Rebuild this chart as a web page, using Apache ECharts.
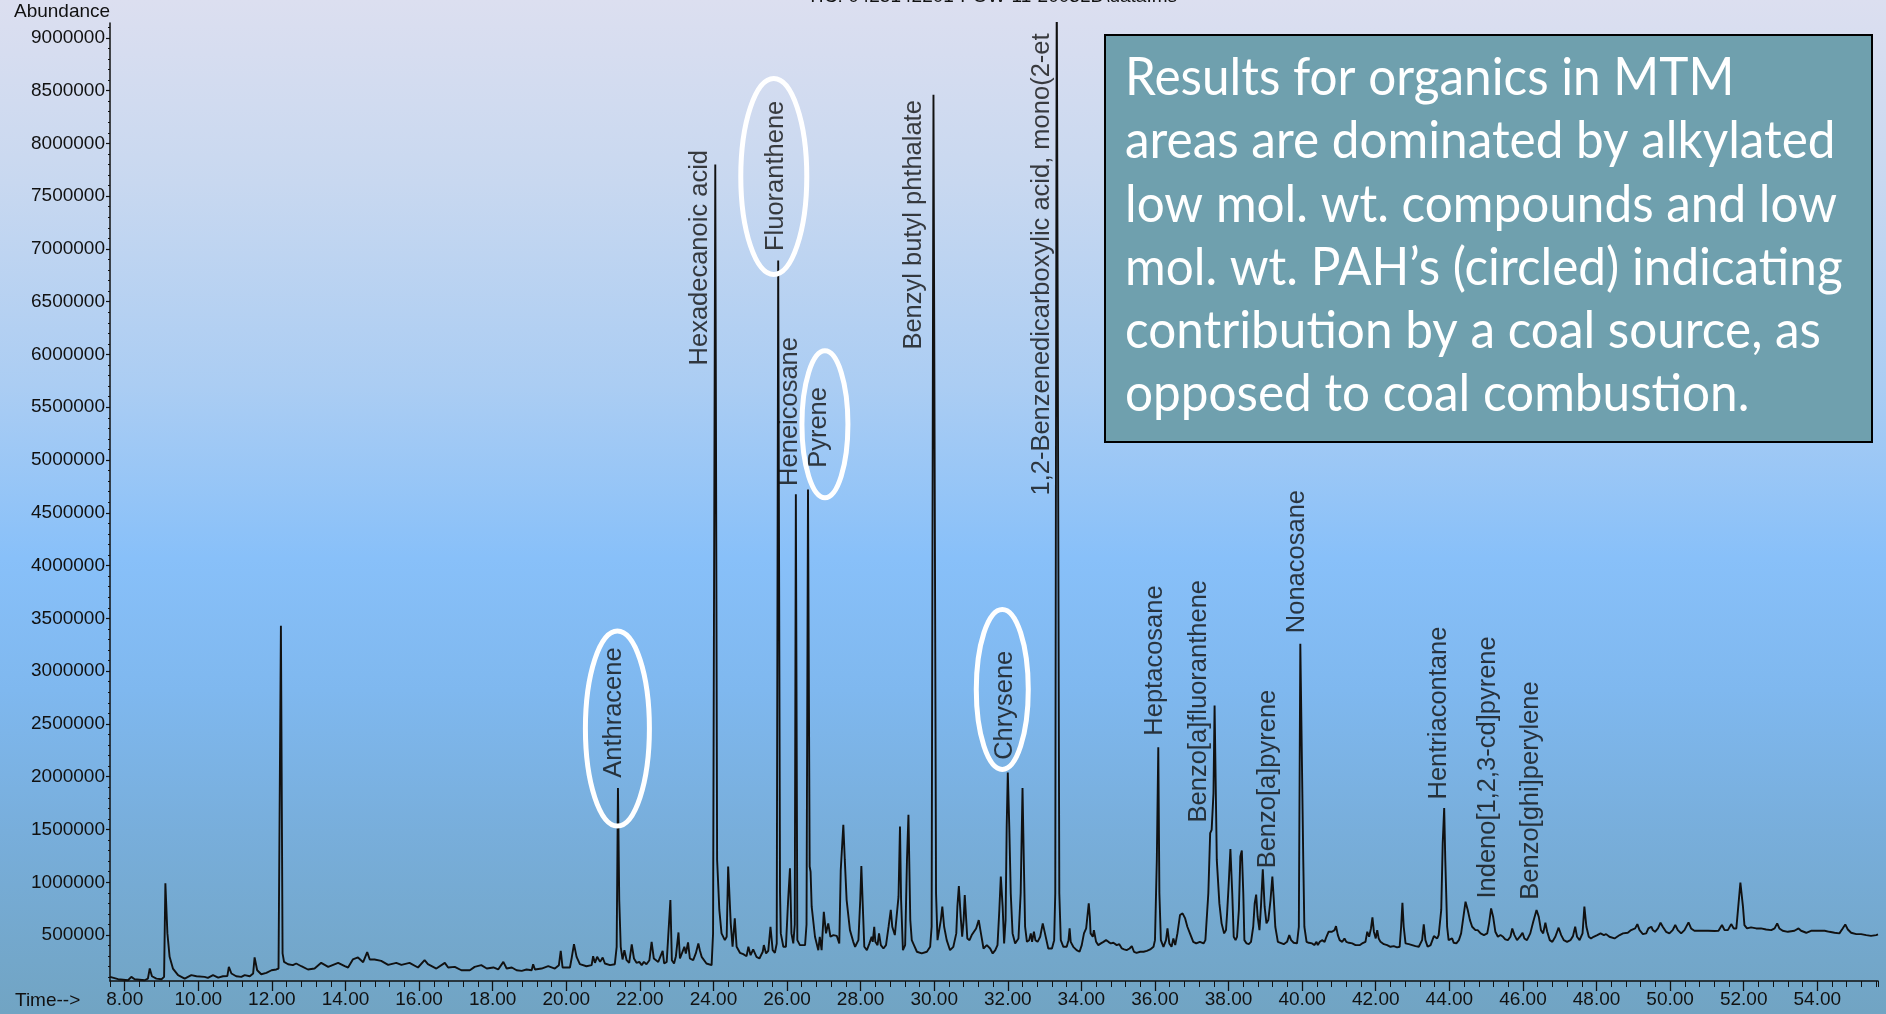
<!DOCTYPE html>
<html><head><meta charset="utf-8">
<script src="https://cdn.jsdelivr.net/npm/echarts@6/dist/echarts.min.js"></script>
<style>
html,body{margin:0;padding:0;width:1886px;height:1014px;overflow:hidden;}
body{background:linear-gradient(to bottom,#dcdff0 0%,#c8d8f0 18%,#abcdf3 38%,#88c0f9 55%,#7fb8ef 68%,#78aedb 82%,#71a4c3 100%);}
#chart{width:1886px;height:1014px;}
</style></head><body><div id="chart"></div>
<script>
// ---- chromatogram (retention time in min, abundance) ----
const segA = [[7.60,104000],[7.82,82000],[8.09,72000],[8.18,104000],[8.27,82000],[8.54,72000],[8.63,88000],[8.68,183000],[8.74,110000],[8.86,88000],[9.00,82000],[9.07,104000],[9.105,990000],[9.16,516000],[9.22,294000],[9.31,183000],[9.45,120000],[9.63,88000],[9.81,120000],[9.95,110000],[10.17,104000],[10.26,94000],[10.40,120000],[10.54,97000],[10.67,110000],[10.79,113000],[10.83,199000],[10.90,136000],[11.03,110000],[11.17,104000],[11.26,120000],[11.40,110000],[11.49,136000],[11.53,288000],[11.60,167000],[11.71,129000],[11.85,142000],[11.99,167000],[12.12,174000],[12.18,183000],[12.245,3430000],[12.29,326000],[12.33,246000],[12.44,224000],[12.57,215000],[12.66,231000],[12.80,205000],[12.98,174000],[13.16,183000],[13.34,237000],[13.53,199000],[13.80,237000],[13.98,205000],[14.07,193000],[14.20,269000],[14.34,288000],[14.48,243000],[14.59,338000],[14.66,269000],[14.79,269000],[14.97,256000],[15.16,218000],[15.38,237000],[15.52,218000],[15.74,237000],[15.97,193000],[16.15,262000],[16.24,224000],[16.47,183000],[16.70,237000],[16.79,193000],[16.97,199000],[17.15,167000],[17.38,167000],[17.51,199000],[17.69,215000]];
const segB = [[17.84,183000],[18.02,193000],[18.15,174000],[18.29,246000],[18.38,183000],[18.52,193000],[18.65,167000],[18.79,161000],[18.92,174000],[19.06,167000],[19.10,224000],[19.15,174000],[19.33,183000],[19.51,205000],[19.69,183000],[19.80,215000],[19.85,351000],[19.90,193000],[20.10,193000],[20.15,288000],[20.21,414000],[20.28,294000],[20.37,224000],[20.55,205000],[20.69,215000],[20.73,300000],[20.78,237000],[20.84,294000],[20.92,246000],[20.99,288000],[21.05,231000],[21.19,215000],[21.32,224000],[21.37,389000],[21.405,1893000],[21.44,832000],[21.48,389000],[21.53,269000],[21.58,357000],[21.64,262000],[21.71,237000],[21.78,411000],[21.84,278000],[21.91,237000],[21.985,246000],[22.05,215000],[22.11,246000],[22.18,224000],[22.26,262000],[22.32,436000],[22.38,278000],[22.50,246000],[22.62,351000],[22.66,231000],[22.73,246000],[22.78,262000],[22.83,832000],[22.87,262000],[22.93,231000],[22.98,300000],[23.05,525000],[23.09,278000],[23.14,262000],[23.21,389000],[23.25,326000],[23.31,430000],[23.36,278000],[23.45,262000],[23.52,326000],[23.59,421000],[23.63,357000],[23.68,294000],[23.81,231000],[23.95,215000],[23.99,516000],[24.05,7800000],[24.10,1212000],[24.16,738000],[24.22,516000],[24.31,452000],[24.36,484000],[24.40,1149000],[24.47,611000],[24.52,389000],[24.58,658000],[24.63,389000],[24.72,332000],[24.81,319000],[24.90,300000],[24.95,389000],[25.01,310000],[25.08,364000],[25.17,294000],[25.25,278000],[25.34,342000],[25.37,405000],[25.43,326000],[25.49,351000],[25.55,579000],[25.61,357000],[25.67,332000],[25.72,420000],[25.76,6890000],[25.81,900000],[25.83,516000],[25.90,389000],[25.97,389000],[26.03,832000],[26.08,1133000],[26.12,516000],[26.17,421000],[26.21,600000],[26.24,4675000],[26.28,452000],[26.35,405000],[26.49,405000],[26.53,600000],[26.57,4720000],[26.615,1150000],[26.64,1100000],[26.67,769000],[26.76,484000],[26.85,357000],[26.89,484000],[26.94,357000],[27.00,720000],[27.06,516000],[27.12,611000],[27.18,484000],[27.26,500000],[27.35,493000],[27.42,421000],[27.46,1117000],[27.53,1545000],[27.57,1212000],[27.62,832000],[27.71,547000],[27.80,436000]];
const segC = [[27.85,389000],[27.94,452000],[27.99,832000],[28.02,1155000],[28.06,769000],[28.10,389000],[28.17,357000],[28.24,421000],[28.30,484000],[28.33,436000],[28.37,579000],[28.40,436000],[28.46,405000],[28.50,516000],[28.55,405000],[28.62,373000],[28.69,405000],[28.76,579000],[28.82,738000],[28.86,579000],[28.89,595000],[28.93,500000],[28.98,484000],[29.03,864000],[29.07,1529000],[29.10,832000],[29.15,357000],[29.21,405000],[29.26,1212000],[29.30,1640000],[29.35,642000],[29.39,452000],[29.45,405000],[29.53,342000],[29.66,326000],[29.80,342000],[29.89,389000],[29.93,579000],[29.98,8460000],[30.05,896000],[30.09,452000],[30.14,452000],[30.18,642000],[30.22,769000],[30.27,579000],[30.34,452000],[30.43,357000],[30.52,389000],[30.60,516000],[30.63,769000],[30.67,965000],[30.72,674000],[30.76,484000],[30.80,642000],[30.83,880000],[30.87,642000],[30.90,468000],[30.96,452000],[31.02,500000],[31.08,532000],[31.14,563000],[31.21,642000],[31.27,516000],[31.34,373000],[31.43,405000],[31.52,373000],[31.59,326000],[31.66,357000],[31.72,405000],[31.77,738000],[31.81,1054000],[31.86,769000],[31.90,421000],[31.94,642000],[31.97,1529000],[32.00,2040000],[32.04,1529000],[32.08,896000],[32.13,516000],[32.20,421000],[32.29,468000],[32.35,896000],[32.40,1893000],[32.435,1212000],[32.47,579000],[32.52,436000],[32.58,452000],[32.625,516000],[32.66,436000],[32.71,532000],[32.75,452000],[32.81,436000],[32.88,484000],[32.95,611000],[33.01,516000],[33.10,373000],[33.20,373000],[33.26,452000],[33.29,896000],[33.33,9600000],[33.40,896000],[33.44,452000],[33.51,389000],[33.60,389000],[33.65,452000],[33.68,563000],[33.71,436000],[33.78,389000],[33.87,357000],[33.95,342000],[34.01,405000],[34.07,516000],[34.13,563000],[34.16,547000],[34.20,800000],[34.23,674000],[34.25,516000],[34.31,484000],[34.34,547000],[34.40,436000],[34.46,405000],[34.53,421000],[34.60,436000],[34.67,452000],[34.735,436000],[34.80,421000],[34.87,427000],[34.96,405000],[35.03,414000],[35.10,373000],[35.16,364000],[35.23,357000],[35.31,373000],[35.37,395000],[35.43,342000],[35.50,332000],[35.60,342000],[35.69,342000],[35.78,351000],[35.87,364000],[35.96,389000],[36.00,452000],[36.05,1212000],[36.09,2280000],[36.12,896000],[36.16,452000],[36.23,389000],[36.30,452000],[36.34,563000],[36.39,421000],[36.45,389000],[36.50,468000],[36.55,405000],[36.61,516000],[36.68,690000],[36.75,706000],[36.82,658000],[36.88,579000],[36.95,516000],[37.04,436000],[37.12,421000],[37.22,436000],[37.32,421000],[37.37,452000],[37.41,468000],[37.45,896000],[37.50,1465000],[37.54,1497000],[37.59,1845000],[37.62,2675000],[37.68,1212000],[37.75,800000],[37.81,611000],[37.88,516000],[37.93,547000],[37.96,706000],[38.00,959000],[38.05,1314000]];
const segD = [[38.10,896000],[38.14,484000],[38.19,452000],[38.23,484000],[38.28,738000],[38.32,1244000],[38.36,1301000],[38.40,896000],[38.43,452000],[38.49,421000],[38.55,414000],[38.61,436000],[38.67,579000],[38.71,800000],[38.75,883000],[38.79,674000],[38.84,547000],[38.88,769000],[38.93,1123000],[38.98,769000],[39.03,611000],[39.08,642000],[39.14,832000],[39.19,1054000],[39.23,832000],[39.27,579000],[39.34,436000],[39.41,427000],[39.50,414000],[39.59,436000],[39.65,500000],[39.70,452000],[39.77,427000],[39.86,421000],[39.91,579000],[39.95,3260000],[40.03,1212000],[40.06,579000],[40.12,436000],[40.18,427000],[40.27,421000],[40.33,405000],[40.39,436000],[40.425,405000],[40.48,436000],[40.54,452000],[40.61,436000],[40.66,484000],[40.72,532000],[40.81,532000],[40.88,547000],[40.92,585000],[40.97,500000],[41.02,452000],[41.09,436000],[41.15,468000],[41.20,436000],[41.27,427000],[41.36,421000],[41.45,405000],[41.49,389000],[41.57,405000],[41.63,421000],[41.72,436000],[41.77,532000],[41.82,484000],[41.87,563000],[41.91,667000],[41.95,532000],[42.00,468000],[42.04,547000],[42.08,468000],[42.13,436000],[42.22,414000],[42.31,405000],[42.40,389000],[42.49,395000],[42.58,383000],[42.65,389000],[42.69,579000],[42.725,806000],[42.76,579000],[42.81,421000],[42.90,414000],[42.99,405000],[43.08,395000],[43.17,389000],[43.21,405000],[43.26,452000],[43.305,601000],[43.35,452000],[43.41,389000],[43.49,405000],[43.58,490000],[43.63,484000],[43.67,468000],[43.71,500000],[43.78,738000],[43.82,1371000],[43.86,1703000],[43.89,1212000],[43.94,579000],[43.98,452000],[44.03,436000],[44.075,468000],[44.12,427000],[44.19,421000],[44.26,452000],[44.32,516000],[44.37,642000],[44.44,816000],[44.50,738000],[44.56,642000],[44.62,579000],[44.71,547000],[44.77,547000],[44.85,516000],[44.94,500000],[45.03,516000],[45.08,611000],[45.135,753000],[45.19,674000],[45.25,532000],[45.32,484000],[45.39,500000],[45.46,484000],[45.52,459000],[45.59,452000],[45.66,484000],[45.71,563000],[45.77,500000],[45.84,452000],[45.93,490000],[45.99,522000],[46.04,468000],[46.11,452000],[46.20,516000],[46.28,627000],[46.37,738000],[46.43,674000],[46.49,547000],[46.55,516000],[46.61,617000],[46.66,532000],[46.73,452000],[46.80,436000],[46.88,484000],[46.97,570000],[47.04,500000],[47.11,452000],[47.20,436000],[47.29,452000],[47.36,490000],[47.42,579000],[47.47,484000],[47.54,452000],[47.62,516000],[47.67,769000],[47.725,579000],[47.79,484000],[47.85,468000],[47.92,484000],[48.02,500000],[48.11,516000]];
const segE = [[48.13,531000],[48.20,500000],[48.26,509000],[48.35,484000],[48.49,468000],[48.63,500000],[48.72,516000],[48.85,522000],[48.94,547000],[49.05,563000],[49.11,604000],[49.17,547000],[49.26,509000],[49.35,516000],[49.41,563000],[49.49,579000],[49.53,547000],[49.59,531000],[49.67,563000],[49.74,617000],[49.80,579000],[49.89,531000],[49.98,516000],[50.07,547000],[50.14,595000],[50.21,547000],[50.30,516000],[50.39,547000],[50.50,620000],[50.57,563000],[50.66,541000],[50.84,541000],[51.03,541000],[51.21,538000],[51.315,541000],[51.41,595000],[51.48,547000],[51.57,547000],[51.66,604000],[51.73,563000],[51.80,563000],[51.86,800000],[51.91,997000],[51.98,769000],[52.02,595000],[52.09,563000],[52.20,573000],[52.34,563000],[52.47,563000],[52.61,553000],[52.75,547000],[52.84,563000],[52.91,611000],[52.97,563000],[53.06,541000],[53.20,531000],[53.38,541000],[53.49,563000],[53.56,541000],[53.70,522000],[53.83,541000],[54.01,541000],[54.20,541000],[54.33,531000],[54.47,522000],[54.60,516000],[54.69,563000],[54.76,601000],[54.83,553000],[54.92,522000],[55.06,509000],[55.19,509000],[55.33,500000],[55.46,493000],[55.60,500000],[55.65,506000]];

// ---- peak annotations ----
const peakNames = ['Anthracene','Hexadecanoic acid','Fluoranthene','Heneicosane','Pyrene','Benzyl butyl phthalate','1,2-Benzenedicarboxylic acid, mono(2-et','Chrysene','Heptacosane','Benzo[a]fluoranthene','Benzo[a]pyrene','Nonacosane','Hentriacontane','Indeno[1,2,3-cd]pyrene','Benzo[ghi]perylene'];
const labelTimes = [21.31, 23.63, 25.71, 26.08, 26.87, 29.45, 32.92, 31.93, 35.99, 37.20, 39.06, 39.85, 43.73, 45.04, 46.22];
const labelAbund = [1990000, 5896000, 6980000, 4755000, 4926000, 6046000, 4664000, 2160000, 2389000, 1567000, 1132000, 3360000, 1784000, 846000, 835000];
const circledCentres = [[21.39, 2457000], [25.64, 7686000], [27.03, 5338000], [31.85, 2827000]];

// ---- axis ticks ----
const xTickLabels = [8,10,12,14,16,18,20,22,24,26,28,30,32,34,36,38,40,42,44,46,48,50,52,54];
const yTickLabels = [500000,1000000,1500000,2000000,2500000,3000000,3500000,4000000,4500000,5000000,5500000,6000000,6500000,7000000,7500000,8000000,8500000,9000000];

const noteLines = ['Results for organics in MTM','areas are dominated by alkylated','low mol. wt. compounds and low','mol. wt. PAH\u2019s (circled) indicating','contribution by a coal source, as','opposed to coal combustion.'];

const FONT = "'Liberation Sans', Arial, sans-serif";
const chromData = segA.concat(segB, segC, segD, segE);
const labelData = peakNames.map((n, i) => ({ name: n, value: [labelTimes[i], labelAbund[i]] }));
const yMinor = [];
for (let v = 100000; v <= 9100000; v += 100000) yMinor.push(v);

const chart = echarts.init(document.getElementById('chart'), null, { renderer: 'canvas' });
chart.setOption({
  animation: false,
  backgroundColor: 'transparent',
  grid: { left: 110, right: 8, top: 23, bottom: 33 },
  xAxis: [{
    type: 'value', min: 7.6, max: 55.65,
    axisLine: { show: true, onZero: false, lineStyle: { color: '#111', width: 1.5 } },
    axisTick: { show: true, customValues: xTickLabels, length: 10, lineStyle: { color: '#111', width: 1.3 } },
    axisLabel: { show: true, customValues: xTickLabels, formatter: v => Number(v).toFixed(2), color: '#111', fontSize: 19, fontFamily: FONT, margin: 9 },
    splitLine: { show: false }
  }, {
    type: 'value', min: 7.6, max: 55.65, interval: 0.4, gridIndex: 0, position: 'bottom',
    axisLine: { show: false, onZero: false }, axisLabel: { show: false }, splitLine: { show: false },
    axisTick: { show: true, length: 6, lineStyle: { color: '#111', width: 1 } }
  }],
  yAxis: [{
    type: 'value', min: 65000, max: 9140000,
    axisLine: { show: true, onZero: false, lineStyle: { color: '#111', width: 1.5 } },
    axisTick: { show: true, customValues: yTickLabels, length: 4, lineStyle: { color: '#111', width: 1.2 } },
    axisLabel: { show: true, customValues: yTickLabels, formatter: v => String(v), color: '#111', fontSize: 19, fontFamily: FONT, margin: 5 },
    splitLine: { show: false }
  }, {
    type: 'value', min: 65000, max: 9140000, gridIndex: 0, position: 'left',
    axisLine: { show: false, onZero: false }, axisLabel: { show: false }, splitLine: { show: false },
    axisTick: { show: true, customValues: yMinor, length: 2, lineStyle: { color: '#111', width: 1 } }
  }],
  series: [{
    type: 'line', data: chromData, showSymbol: false, symbol: 'none', silent: true, z: 3,
    lineStyle: { color: '#111', width: 1.9 }
  }, {
    type: 'scatter', data: labelData, symbolSize: 1, silent: true, z: 4,
    itemStyle: { color: 'rgba(0,0,0,0)' },
    label: { show: true, formatter: '{b}', position: 'inside', rotate: 90, align: 'left', verticalAlign: 'middle', color: '#111', fontSize: 25.5, fontFamily: FONT }
  }]
});

const radii = [[32, 97.5], [33, 98], [23, 73.5], [26, 80]];
const graphics = [];
circledCentres.forEach((c, i) => {
  const p = chart.convertToPixel({ seriesIndex: 0 }, c);
  graphics.push({ type: 'ellipse', z: 50, shape: { cx: p[0], cy: p[1], rx: radii[i][0], ry: radii[i][1] }, style: { fill: null, stroke: '#ffffff', lineWidth: 5 } });
});
graphics.push({ type: 'rect', z: 60, shape: { x: 1105, y: 35, width: 767, height: 407 }, style: { fill: '#6fa0ae', stroke: '#000', lineWidth: 2 } });
noteLines.forEach((t, i) => {
  graphics.push({ type: 'text', z: 61, x: 1125, y: 95 + i * 63.3 - 17, scaleX: 0.97, scaleY: 1.03, style: { text: t, fill: '#ffffff', font: "51px Lato, 'Open Sans', sans-serif", align: 'left', verticalAlign: 'middle' } });
});
graphics.push({ type: 'text', z: 61, x: 992, y: -3, style: { text: 'TIC: 0425142201-POW-11-2003LD\\data.ms', fill: '#111', font: '19px ' + FONT, align: 'center', verticalAlign: 'middle' } });
graphics.push({ type: 'text', z: 61, x: 14, y: 12, style: { text: 'Abundance', fill: '#111', font: '19px ' + FONT, align: 'left', verticalAlign: 'middle' } });
graphics.push({ type: 'text', z: 61, x: 15, y: 1001, style: { text: 'Time-->', fill: '#111', font: '19px ' + FONT, align: 'left', verticalAlign: 'middle' } });
chart.setOption({ graphic: graphics });
</script></body></html>
